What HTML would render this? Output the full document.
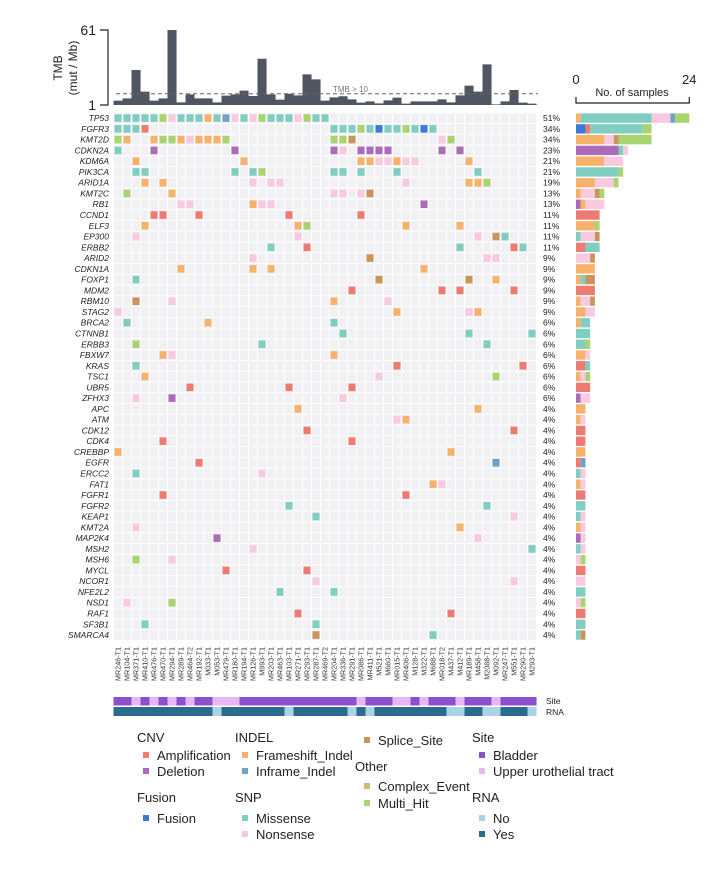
<!DOCTYPE html>
<html><head><meta charset="utf-8"><style>
html,body{margin:0;padding:0;background:#fff;}
svg{display:block;font-family:"Liberation Sans",sans-serif;}
</style></head><body>
<svg id="c" width="728" height="881" viewBox="0 0 728 881"></svg>
<script>
const samples=["MR246-T1","MR104-T1","MR371-T1","MR410-T1","MR476-T1","MR470-T1","MR294-T1","MR289-T1","MR464-T2","MR192-T1","M033-T1","M053-T1","MR479-T1","MR180-T1","MR194-T1","MR126-T1","M993-T1","MR203-T1","MR463-T1","MR103-T1","MR271-T1","MR293-T1","MR287-T1","MR469-T2","MR204-T1","MR336-T1","MR291-T1","MR086-T1","MR411-T1","M521-T1","M660-T1","MR015-T1","MR406-T1","M128-T1","M322-T1","M688-T1","MR018-T2","M437-T1","M412-T1","MR189-T1","M458-T1","M2088-T1","M092-T1","MR247-T1","M551-T1","MR290-T1","M293-T1"];
const tmb=[4.5,6.3,29,11.7,4.5,6.3,61,3.1,9.5,6.3,6.3,3.1,8.5,9.5,12.5,8.2,38,9.5,5.3,10,8.7,25.5,21.5,4.5,7.1,8,5.5,2.9,3.9,2.3,4.7,6.9,2.1,3.9,3.9,3.9,5.5,3.1,8.7,16.5,11.7,33.5,1.5,3.9,13,2.9,2.1];
const genes=["TP53","FGFR3","KMT2D","CDKN2A","KDM6A","PIK3CA","ARID1A","KMT2C","RB1","CCND1","ELF3","EP300","ERBB2","ARID2","CDKN1A","FOXP1","MDM2","RBM10","STAG2","BRCA2","CTNNB1","ERBB3","FBXW7","KRAS","TSC1","UBR5","ZFHX3","APC","ATM","CDK12","CDK4","CREBBP","EGFR","ERCC2","FAT1","FGFR1","FGFR2","KEAP1","KMT2A","MAP2K4","MSH2","MSH6","MYCL","NCOR1","NFE2L2","NSD1","RAF1","SF3B1","SMARCA4"];
const mutations=["0M 1M 2M 3M 4M 5H 6N 7M 8M 9M 10F 11M 12I 13N 14M 15N 16H 17M 18M 19M 20N 21H 22M 23M",
"0M 1M 2M 3A 24M 25M 26M 27H 28M 29U 30M 31M 32H 33M 34U 35M",
"0H 1F 4F 5H 6H 7F 8N 9F 10F 11F 12H 24H 25H 26S 36N 37H",
"0M 4D 13D 24D 25N 27D 28D 29D 30D 36D 38D",
"2F 14F 27F 28F 29N 30N 31F 32N 33N 39F",
"2M 3M 13M 15M 16H 24M 25M 27M 31M 40M",
"3F 5F 15N 17N 18N 32N 39F 40F 41H",
"1H 6F 24N 25N 27N 28S","7N 8N 15F 16N 17N 34D","4A 5A 9A 19A 27A","3F 20F 21H 32F 38F",
"2N 20N 40N 42S 43M","17M 21A 38M 44A 45M","15N 28S 41N 42N","7F 15F 17F 34F","2M 29S 39S 42F",
"26A 36A 38A 44A","2S 6N 24F 30N","0N 31F 39N 40F","1M 10F 24M","25M 39M 46M","2H 16M 41M",
"5F 6N 24F","2M 31A 45A","3F 29N 42H","8A 19A 26A","2N 6D 25N","20F 40F","31N 32F","21A 44A",
"5A 26A","0F 37F","9A 42I","2M 16N","35F 36N","5A 32A","19M 41M","22M 44N","2N 38F","11D 40N",
"15N 46M","2H 6N","12A 21A","22N 44N","18M 24M","1N 6H","20A 37A","3M 22M","22S 35M"];
const siteUpper=[2,4,6,8,11,12,13,27,31,32,34,38,42];
const rnaNo=[11,19,26,28,37,38,41,42,46];
const tmbTicks=[1,61];
const countTicks=[0,24];

const COL={M:"#80cdc1",N:"#f9c9df",F:"#f6b26b",I:"#6fa3c6",A:"#ee7b72",D:"#ab6bb8",U:"#3a7bd5",S:"#c9955a",H:"#a9d46f",C:"#cbbb7c"};
const NAMES={M:"missense",N:"nonsense",F:"frameshift",I:"inframe",A:"amplification",D:"deletion",U:"fusion",S:"splice-site",H:"multi-hit",C:"complex-event"};
const STACK=["U","D","A","F","M","N","S","I","H"];
const svg=document.getElementById('c');
const NS="http://www.w3.org/2000/svg";
function mk(tag,attrs,parent){const e=document.createElementNS(NS,tag);for(const k in attrs)e.setAttribute(k,attrs[k]);(parent||svg).appendChild(e);return e;}

const x0=113.5, cw=9.0, y0=112.7, rh=10.77;
const xCol=c=>x0+c*cw;
const yRow=r=>y0+r*rh;
// TMB axis
const tmbY=v=>105-(v-1)*1.25;
const cntX=n=>576+n*4.72;

// TMB panel
const gT=mk('g',{});


tmb.forEach((v,i)=>{
 const b=mk('rect',{x:xCol(i),y:tmbY(v),width:cw+0.05,height:105-tmbY(v),fill:"#4f5661"},gT);
 
 
});
const ax=mk('path',{d:`M100 ${tmbY(61)}H108V${tmbY(1)}H100`,stroke:"#222",fill:"none","stroke-width":1.2},gT);


tmbTicks.forEach(t=>{
 const tx=mk('text',{x:96,y:tmbY(t)+5,"text-anchor":"end","font-size":14,fill:"#222"},gT);tx.textContent=t;
 
 
});
const t1=mk('text',{x:0,y:0,"font-size":12,"text-anchor":"middle",fill:"#222",transform:"translate(62,68) rotate(-90)"},gT);t1.textContent="TMB";


const t2=mk('text',{x:0,y:0,"font-size":12,"text-anchor":"middle",fill:"#222",transform:"translate(77,68) rotate(-90)"},gT);t2.textContent="(mut / Mb)";


const dl=mk('line',{x1:116,x2:538,y1:tmbY(10),y2:tmbY(10),stroke:"#666","stroke-dasharray":"4,3","stroke-width":1},gT);


const dt=mk('text',{x:333,y:tmbY(10)-2,"font-size":8,fill:"#777"},gT);dt.textContent="TMB > 10";



// grid
const gG=mk('g',{});


genes.forEach((g,r)=>{
 for(let c=0;c<samples.length;c++){mk('rect',{x:xCol(c)+0.5,y:yRow(r)+0.5,width:cw-1,height:rh-1,fill:"#f1f0f3"},gG);}
 const lab=mk('text',{x:109,y:yRow(r)+rh/2+3,"text-anchor":"end","font-size":8.5,"font-style":"italic",fill:"#222"});lab.textContent=g;
 
 
 const items=mutations[r].split(" ").map(s=>[parseInt(s),s.slice(-1)]);
 const pct=mk('text',{x:543,y:yRow(r)+rh/2+3,"font-size":8.5,fill:"#222"});pct.textContent=Math.round(items.length/samples.length*100)+"%";
 
 
 items.forEach(([c,t])=>{
  const cell=mk('rect',{x:xCol(c)+1,y:yRow(r)+1.6,width:cw-2,height:rh-3.2,fill:COL[t]},gG);
  
  
 });
 // right bars
 const cnt={};items.forEach(([c,t])=>cnt[t]=(cnt[t]||0)+1);
 let acc=0;
 STACK.forEach(t=>{if(!cnt[t])return;
  const b=mk('rect',{x:cntX(acc),y:yRow(r)+0.7,width:cntX(acc+cnt[t])-cntX(acc),height:rh-1.4,fill:COL[t]});
  
  
  acc+=cnt[t];});
});
// right axis
const rax=mk('path',{d:`M${cntX(0)} 97V103H${cntX(24)}V97`,stroke:"#222",fill:"none","stroke-width":1.2});


countTicks.forEach(t=>{const tx=mk('text',{x:cntX(t),y:84,"text-anchor":"middle","font-size":13,fill:"#222"});tx.textContent=t;
 
 });
const rt=mk('text',{x:632,y:96,"text-anchor":"middle","font-size":11,fill:"#222"});rt.textContent="No. of samples";



// sample labels + tracks
samples.forEach((s,c)=>{
 const tx=mk('text',{x:0,y:0,"text-anchor":"end","font-size":7.2,fill:"#333",transform:`translate(${xCol(c)+cw/2+2.6},647) rotate(-90)`});tx.textContent=s;
 
 
 const st=mk('rect',{x:xCol(c),y:697,width:cw+0.05,height:8.5,fill:siteUpper.includes(c)?"#e6b8f3":"#8e4fcf"});
 
 
 const rn=mk('rect',{x:xCol(c),y:707,width:cw+0.05,height:9,fill:rnaNo.includes(c)?"#a8d4e6":"#2b6b8e"});
 
 
});
[["Site",704],["RNA",715]].forEach(([t,y])=>{const e=mk('text',{x:546,y:y,"font-size":8.5,fill:"#222"});e.textContent=t;
 
 });

// legend
const gL=mk('g',{});


const titles=[["CNV",137,742],["Fusion",137,802],["INDEL",235,742],["SNP",235,802],["Other",355,771],["Site",472,742],["RNA",472,802]];
titles.forEach(([t,x,y])=>{const e=mk('text',{x,y,"font-size":13,fill:"#222"},gL);e.textContent=t;
 
 });
const items=[["Amplification",COL.A,146,755],["Deletion",COL.D,146,771],["Fusion",COL.U,146,818],["Frameshift_Indel",COL.F,245,755],["Inframe_Indel",COL.I,245,771],["Missense",COL.M,245,818],["Nonsense",COL.N,245,834],["Splice_Site",COL.S,367,740],["Complex_Event",COL.C,367,786],["Multi_Hit",COL.H,367,803],["Bladder","#8e4fcf",482,755],["Upper urothelial tract","#e6b8f3",482,771],["No","#a8d4e6",482,818],["Yes","#2b6b8e",482,834]];
items.forEach(([t,col,x,y])=>{
 const g=mk('g',{},gL);
 
 
 mk('rect',{x:x-3,y:y-3,width:6,height:6,fill:col},g);
 const e=mk('text',{x:x+11,y:y+5,"font-size":13,fill:"#222"},g);e.textContent=t;
});
</script>
</body></html>
